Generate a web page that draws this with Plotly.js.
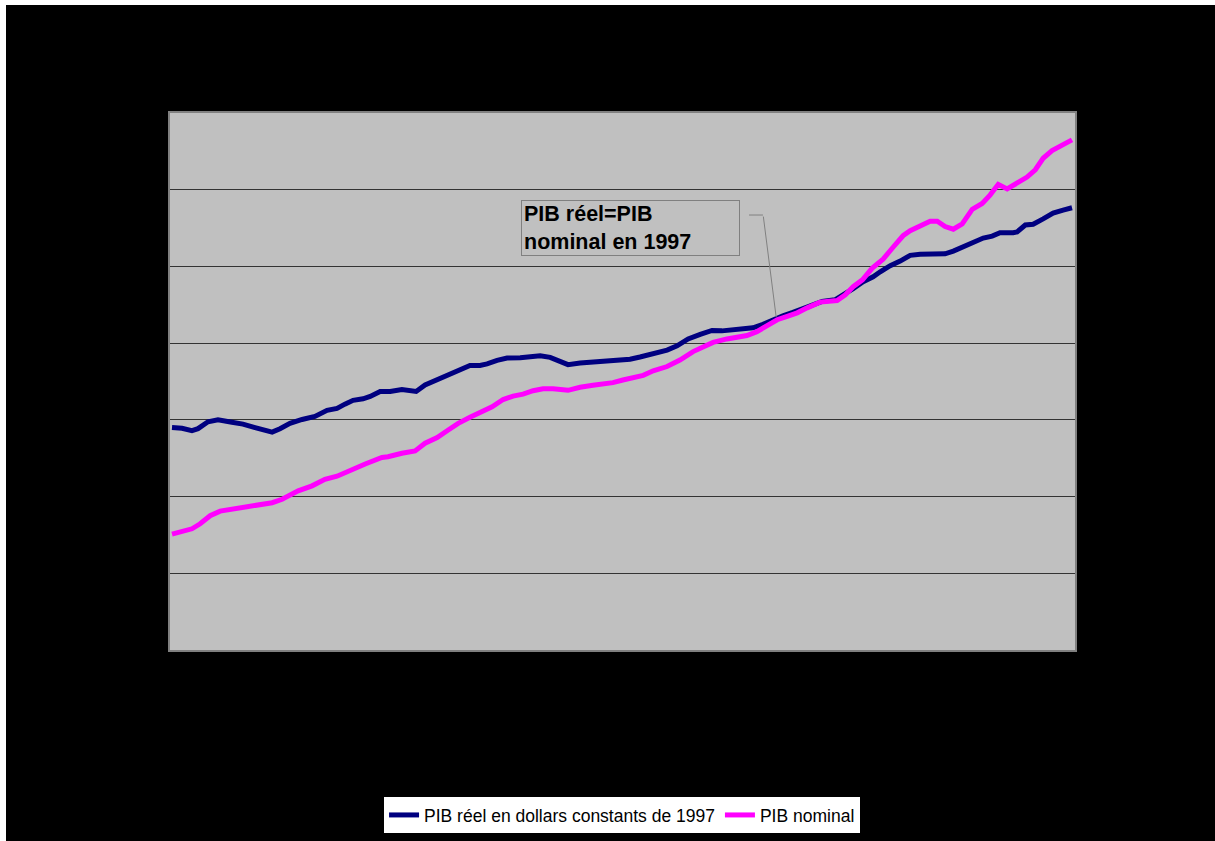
<!DOCTYPE html>
<html>
<head>
<meta charset="utf-8">
<script src="https://cdn.plot.ly/plotly-3.0.1.min.js"></script>
<style>
  html, body { margin: 0; padding: 0; background: #ffffff; }
  #chart { position: absolute; left: 6px; top: 5px; width: 1209px; height: 836px; }
</style>
</head>
<body>
<div id="chart"></div>
<script>
const realYears = [1980.00,1980.28,1980.56,1980.73,1981.01,1981.29,1981.68,1981.99,1982.33,1982.81,
  1983.03,1983.31,1983.65,1984.01,1984.35,1984.63,1984.85,1985.08,1985.36,1985.56,1985.84,1986.12,
  1986.45,1986.68,1986.85,1987.10,1987.32,1987.60,1987.89,1988.14,1988.36,1988.64,1988.84,1989.12,
  1989.40,1989.77,1990.13,1990.33,1990.61,1990.89,1991.11,1991.45,1991.81,1992.21,1992.57,1992.85,
  1993.13,1993.41,1993.69,1993.89,1994.17,1994.48,1994.82,1995.15,1995.43,1995.74,1996.02,1996.30,
  1996.58,1996.86,1997.14,1997.42,1997.71,1997.99,1998.24,1998.60,1998.83,1999.11,1999.39,1999.67,
  1999.87,2000.15,2000.43,2000.71,2000.99,2001.35,2001.69,2001.92,2002.20,2002.48,2002.76,2003.01,
  2003.23,2003.60,2003.71,2003.94,2004.16,2004.44,2004.72,2005.00,2005.25];
const realGDP = [580,578,572,577,595,600,594,589,580,568,
  577,591,601,609,625,630,641,651,655,661,674,674,
  679,678,674,691,700,713,723,735,742,742,746,755,
  761,762,767,767,763,754,744,748,751,752,755,758,
  764,771,778,782,793,811,823,833,832,835,838,840,
  849,861,871,880,891,900,909,913,925,942,960,973,
  986,1002,1014,1029,1032,1033,1033,1040,1051,1062,1074,1079,
  1088,1088,1090,1108,1110,1124,1139,1147,1153];

// Nominal GDP
const nomYears = [1980.00,1980.28,1980.56,1980.79,1981.07,1981.35,1981.71,1982.05,1982.41,1982.81,
  1983.09,1983.54,1983.93,1984.29,1984.63,1984.99,1985.42,1985.89,1986.06,1986.45,1986.82,1987.10,
  1987.44,1987.74,1988.03,1988.36,1988.64,1988.98,1989.29,1989.57,1989.85,1990.13,1990.41,1990.69,
  1991.11,1991.45,1991.81,1992.09,1992.37,1992.65,1992.94,1993.22,1993.50,1993.89,1994.25,1994.62,
  1994.90,1995.18,1995.57,1995.85,1996.13,1996.41,1996.70,1996.98,1997.26,1997.54,1997.82,1998.18,
  1998.66,1998.89,1999.11,1999.37,1999.64,1999.95,2000.23,2000.51,2000.71,2000.99,2001.27,2001.47,
  2001.69,2001.92,2002.17,2002.45,2002.73,2002.95,2003.18,2003.43,2003.71,2003.99,2004.22,2004.44,
  2004.69,2004.97,2005.25];
const nominalGDP = [302,308,316,329,350,362,367,375,380,384,
  393,415,428,445,453,469,485,502,504,513,519,539,
  554,573,591,607,618,634,653,662,667,676,681,681,
  677,685,690,692,697,704,709,716,728,739,756,778,
  790,802,811,817,820,830,845,861,870,879,892,907,
  911,926,947,965,995,1019,1050,1080,1093,1105,1118,1118,
  1104,1097,1111,1149,1164,1186,1214,1202,1218,1233,1252,1282,
  1302,1316,1330];

const seriesNames = ["PIB réel en dollars constants de 1997", "PIB nominal"];
const calloutText = "PIB réel=PIB<br>nominal en 1997";
const yTicks = [0, 200, 400, 600, 800, 1000, 1200, 1400];

const traces = [
  { x: realYears, y: realGDP, type: "scatter", mode: "lines", name: seriesNames[0],
    line: { color: "#000080", width: 5 } },
  { x: nomYears, y: nominalGDP, type: "scatter", mode: "lines", name: seriesNames[1],
    line: { color: "#FF00FF", width: 5 } }
];

const layout = {
  width: 1209, height: 836,
  margin: { l: 164, r: 140, t: 108, b: 191, pad: 0, autoexpand: false },
  paper_bgcolor: "#000000",
  plot_bgcolor: "#C0C0C0",
  font: { family: "Arial, 'Liberation Sans', sans-serif", color: "#000000" },
  showlegend: true,
  xaxis: {
    range: [1979.944, 2005.334],
    showgrid: false, zeroline: false,
    showticklabels: false, ticks: "",
    showline: true, linecolor: "#808080", linewidth: 2, mirror: true
  },
  yaxis: {
    range: [0, 1400],
    tickvals: yTicks,
    showgrid: true, gridcolor: "#333333", gridwidth: 1,
    zeroline: false,
    showticklabels: false, ticks: "",
    showline: true, linecolor: "#808080", linewidth: 2, mirror: true
  },
  legend: {
    orientation: "h",
    x: 0.4995, xanchor: "center",
    y: -0.272, yanchor: "top",
    bgcolor: "#FFFFFF", bordercolor: "#000000", borderwidth: 1,
    font: { size: 17.5, color: "#000000", family: "Arial, 'Liberation Sans', sans-serif" },
    itemwidth: 30, tracegroupgap: 0
  },
  annotations: [
    {
      xref: "paper", yref: "paper", x: 0.3875, y: 0.838,
      xanchor: "left", yanchor: "top",
      text: calloutText, showarrow: false, align: "left",
      font: { size: 21.5, color: "#000000", family: "Arial, 'Liberation Sans', sans-serif", weight: "bold" },
      bordercolor: "#808080", borderwidth: 1, borderpad: 2,
      width: 213, height: 50, valign: "middle"
    },
    {
      xref: "x", yref: "y", x: 1996.95, y: 868,
      text: "", showarrow: true, arrowhead: 0, arrowwidth: 1, arrowcolor: "#808080",
      axref: "pixel", ayref: "pixel", ax: -13, ay: -102, standoff: 0, startstandoff: 0
    }
  ],
  shapes: [
    { type: "line", xref: "paper", yref: "paper", x0: 0.6398, x1: 0.6552, y0: 0.810, y1: 0.810,
      line: { color: "#808080", width: 1 } }
  ]
};

Plotly.newPlot("chart", traces, layout, { displayModeBar: false, staticPlot: true });
</script>
</body>
</html>
